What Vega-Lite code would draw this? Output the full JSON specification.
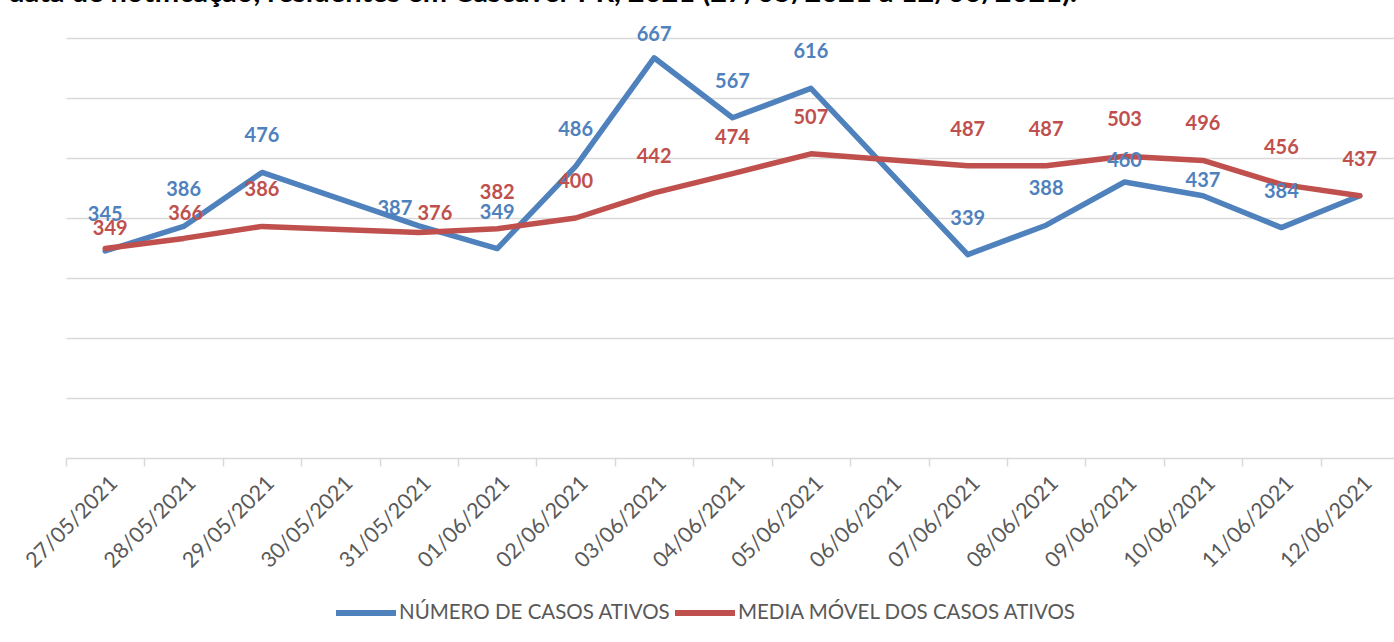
{
  "$schema": "https://vega.github.io/schema/vega-lite/v6.json",
  "width": 1333,
  "height": 420,
  "autosize": "none",
  "padding": {"left": 66, "top": 38, "right": -5, "bottom": 184},
  "background": "white",
  "title": {
    "text": "data de notificação, residentes em Cascavel-PR, 2021 (27/05/2021 a 12/06/2021).",
    "anchor": "start",
    "frame": "group",
    "orient": "top",
    "baseline": "alphabetic",
    "offset": 0,
    "dx": -58,
    "dy": 6,
    "font": "Lato",
    "fontSize": 29,
    "fontWeight": "bold",
    "color": "#000000"
  },
  "config": {
    "view": {"stroke": null},
    "axis": {"labelFont": "Lato", "titleFont": "Lato"}
  },
  "data": {
    "values": [
      {"data": "27/05/2021", "serie": "NÚMERO DE CASOS ATIVOS", "valor": 345},
      {"data": "28/05/2021", "serie": "NÚMERO DE CASOS ATIVOS", "valor": 386},
      {"data": "29/05/2021", "serie": "NÚMERO DE CASOS ATIVOS", "valor": 476},
      {"data": "31/05/2021", "serie": "NÚMERO DE CASOS ATIVOS", "valor": 387},
      {"data": "01/06/2021", "serie": "NÚMERO DE CASOS ATIVOS", "valor": 349},
      {"data": "02/06/2021", "serie": "NÚMERO DE CASOS ATIVOS", "valor": 486},
      {"data": "03/06/2021", "serie": "NÚMERO DE CASOS ATIVOS", "valor": 667},
      {"data": "04/06/2021", "serie": "NÚMERO DE CASOS ATIVOS", "valor": 567},
      {"data": "05/06/2021", "serie": "NÚMERO DE CASOS ATIVOS", "valor": 616},
      {"data": "07/06/2021", "serie": "NÚMERO DE CASOS ATIVOS", "valor": 339},
      {"data": "08/06/2021", "serie": "NÚMERO DE CASOS ATIVOS", "valor": 388},
      {"data": "09/06/2021", "serie": "NÚMERO DE CASOS ATIVOS", "valor": 460},
      {"data": "10/06/2021", "serie": "NÚMERO DE CASOS ATIVOS", "valor": 437},
      {"data": "11/06/2021", "serie": "NÚMERO DE CASOS ATIVOS", "valor": 384},
      {"data": "12/06/2021", "serie": "NÚMERO DE CASOS ATIVOS", "valor": 437},
      {"data": "27/05/2021", "serie": "MEDIA MÓVEL DOS CASOS ATIVOS", "valor": 349},
      {"data": "28/05/2021", "serie": "MEDIA MÓVEL DOS CASOS ATIVOS", "valor": 366},
      {"data": "29/05/2021", "serie": "MEDIA MÓVEL DOS CASOS ATIVOS", "valor": 386},
      {"data": "31/05/2021", "serie": "MEDIA MÓVEL DOS CASOS ATIVOS", "valor": 376},
      {"data": "01/06/2021", "serie": "MEDIA MÓVEL DOS CASOS ATIVOS", "valor": 382},
      {"data": "02/06/2021", "serie": "MEDIA MÓVEL DOS CASOS ATIVOS", "valor": 400},
      {"data": "03/06/2021", "serie": "MEDIA MÓVEL DOS CASOS ATIVOS", "valor": 442},
      {"data": "04/06/2021", "serie": "MEDIA MÓVEL DOS CASOS ATIVOS", "valor": 474},
      {"data": "05/06/2021", "serie": "MEDIA MÓVEL DOS CASOS ATIVOS", "valor": 507},
      {"data": "07/06/2021", "serie": "MEDIA MÓVEL DOS CASOS ATIVOS", "valor": 487},
      {"data": "08/06/2021", "serie": "MEDIA MÓVEL DOS CASOS ATIVOS", "valor": 487},
      {"data": "09/06/2021", "serie": "MEDIA MÓVEL DOS CASOS ATIVOS", "valor": 503},
      {"data": "10/06/2021", "serie": "MEDIA MÓVEL DOS CASOS ATIVOS", "valor": 496},
      {"data": "11/06/2021", "serie": "MEDIA MÓVEL DOS CASOS ATIVOS", "valor": 456},
      {"data": "12/06/2021", "serie": "MEDIA MÓVEL DOS CASOS ATIVOS", "valor": 437}
    ]
  },
  "encoding": {
    "x": {
      "field": "data",
      "type": "nominal",
      "sort": null,
      "scale": {
        "type": "point",
        "padding": 0.5,
        "domain": ["27/05/2021","28/05/2021","29/05/2021","30/05/2021","31/05/2021","01/06/2021","02/06/2021","03/06/2021","04/06/2021","05/06/2021","06/06/2021","07/06/2021","08/06/2021","09/06/2021","10/06/2021","11/06/2021","12/06/2021"]
      },
      "axis": {
        "title": null,
        "grid": false,
        "labelAngle": -45,
        "labelAlign": "right",
        "labelBaseline": "middle",
        "labelFont": "Lato",
        "labelFontSize": 21.5,
        "labelColor": "#595959",
        "labelPadding": 14,
        "labelOffset": 48,
        "tickOffset": -39.2,
        "domainColor": "#d9d9d9",
        "domainWidth": 1.5,
        "tickColor": "#d9d9d9",
        "tickWidth": 1.5,
        "tickSize": 8,
        "labelLimit": 0
      }
    },
    "y": {
      "field": "valor",
      "type": "quantitative",
      "scale": {"domain": [0, 700], "nice": false, "zero": true},
      "axis": {
        "title": null,
        "labels": false,
        "ticks": false,
        "domain": false,
        "grid": true,
        "values": [100, 200, 300, 400, 500, 600, 700],
        "gridColor": "#d9d9d9",
        "gridWidth": 1.5
      }
    }
  },
  "layer": [
    {
      "mark": {"type": "line", "strokeWidth": 5.5, "strokeJoin": "round", "strokeCap": "round"},
      "encoding": {
        "color": {
          "field": "serie",
          "type": "nominal",
          "sort": null,
          "scale": {
            "domain": ["NÚMERO DE CASOS ATIVOS", "MEDIA MÓVEL DOS CASOS ATIVOS"],
            "range": ["#4F81BD", "#C0504D"]
          },
          "legend": {
            "title": null,
            "orient": "none",
            "legendX": 267,
            "legendY": 542,
            "direction": "horizontal",
            "symbolType": "stroke",
            "symbolSize": 3600,
            "symbolStrokeWidth": 6,
            "labelFont": "Lato",
            "labelFontSize": 20.5,
            "labelColor": "#595959",
            "labelOffset": 0,
            "columnPadding": -8,
            "labelLimit": 0
          }
        }
      }
    },
    {
      "transform": [
        {"filter": "!((datum.serie == 'MEDIA MÓVEL DOS CASOS ATIVOS' && indexof(['27/05/2021','28/05/2021','31/05/2021'], datum.data) >= 0) || (datum.serie == 'NÚMERO DE CASOS ATIVOS' && indexof(['31/05/2021','03/06/2021','09/06/2021','10/06/2021','12/06/2021'], datum.data) >= 0))"}
      ],
      "mark": {"type": "text", "font": "Lato", "fontSize": 20, "fontWeight": "bold", "dy": -36, "baseline": "middle", "align": "center"},
      "encoding": {
        "text": {"field": "valor", "type": "quantitative"},
        "color": {
          "condition": {"test": "datum.serie == 'MEDIA MÓVEL DOS CASOS ATIVOS'", "value": "#C0504D"},
          "value": "#4F81BD"
        }
      }
    },
    {
      "transform": [{"filter": "datum.serie == 'MEDIA MÓVEL DOS CASOS ATIVOS' && datum.data == '27/05/2021'"}],
      "mark": {"type": "text", "font": "Lato", "fontSize": 20, "fontWeight": "bold", "dx": 5, "dy": -20, "baseline": "middle", "color": "#C0504D"},
      "encoding": {"text": {"field": "valor", "type": "quantitative"}}
    },
    {
      "transform": [{"filter": "datum.serie == 'MEDIA MÓVEL DOS CASOS ATIVOS' && datum.data == '28/05/2021'"}],
      "mark": {"type": "text", "font": "Lato", "fontSize": 20, "fontWeight": "bold", "dx": 2, "dy": -24, "baseline": "middle", "color": "#C0504D"},
      "encoding": {"text": {"field": "valor", "type": "quantitative"}}
    },
    {
      "transform": [{"filter": "datum.serie == 'MEDIA MÓVEL DOS CASOS ATIVOS' && datum.data == '31/05/2021'"}],
      "mark": {"type": "text", "font": "Lato", "fontSize": 20, "fontWeight": "bold", "dx": 16, "dy": -18, "baseline": "middle", "color": "#C0504D"},
      "encoding": {"text": {"field": "valor", "type": "quantitative"}}
    },
    {
      "transform": [{"filter": "datum.serie == 'NÚMERO DE CASOS ATIVOS' && datum.data == '31/05/2021'"}],
      "mark": {"type": "text", "font": "Lato", "fontSize": 20, "fontWeight": "bold", "dx": -24, "dy": -17, "baseline": "middle", "color": "#4F81BD"},
      "encoding": {"text": {"field": "valor", "type": "quantitative"}}
    },
    {
      "transform": [{"filter": "datum.serie == 'NÚMERO DE CASOS ATIVOS' && datum.data == '03/06/2021'"}],
      "mark": {"type": "text", "font": "Lato", "fontSize": 20, "fontWeight": "bold", "dy": -23, "baseline": "middle", "color": "#4F81BD"},
      "encoding": {"text": {"field": "valor", "type": "quantitative"}}
    },
    {
      "transform": [{"filter": "datum.serie == 'NÚMERO DE CASOS ATIVOS' && datum.data == '09/06/2021'"}],
      "mark": {"type": "text", "font": "Lato", "fontSize": 20, "fontWeight": "bold", "dy": -21, "baseline": "middle", "color": "#4F81BD"},
      "encoding": {"text": {"field": "valor", "type": "quantitative"}}
    },
    {
      "transform": [{"filter": "datum.serie == 'NÚMERO DE CASOS ATIVOS' && datum.data == '10/06/2021'"}],
      "mark": {"type": "text", "font": "Lato", "fontSize": 20, "fontWeight": "bold", "dy": -15, "baseline": "middle", "color": "#4F81BD"},
      "encoding": {"text": {"field": "valor", "type": "quantitative"}}
    }
  ]
}
